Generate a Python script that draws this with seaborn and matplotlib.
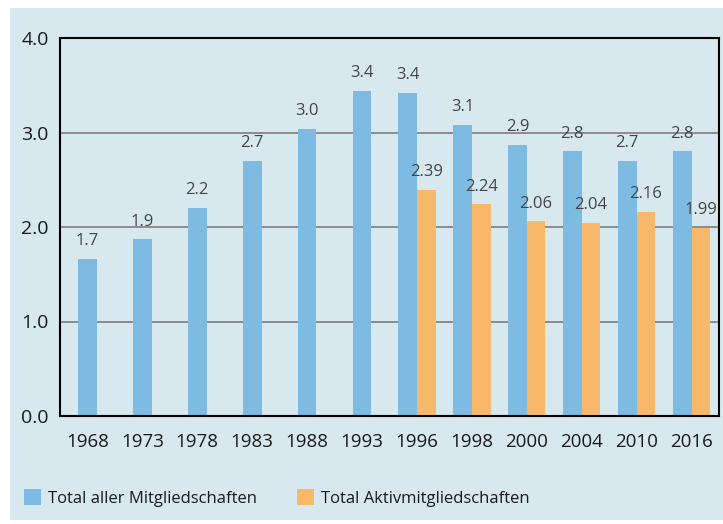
import pandas as pd
import matplotlib.pyplot as plt
import seaborn as sns
from matplotlib.patches import Rectangle, Patch

years = ['1968', '1973', '1978', '1983', '1988', '1993',
         '1996', '1998', '2000', '2004', '2010', '2016']
total_all = [1.66, 1.87, 2.20, 2.70, 3.04, 3.44, 3.42, 3.08, 2.87, 2.80, 2.70, 2.80]
years_active = ['1996', '1998', '2000', '2004', '2010', '2016']
total_active = [2.39, 2.24, 2.06, 2.04, 2.16, 1.99]

name_all = 'Total aller Mitgliedschaften'
name_active = 'Total Aktivmitgliedschaften'
blue = '#7DBBE3'
orange = '#F8B86A'
bg = '#D7E8EF'

sns.set_style('white')
plt.rcParams['font.family'] = ['Open Sans', 'DejaVu Sans']

df = pd.DataFrame({'Jahr': years, 'Wert': total_all})
early = df[~df['Jahr'].isin(years_active)]
late = pd.concat([
    pd.DataFrame({'Jahr': years_active,
                  'Wert': df.set_index('Jahr').loc[years_active, 'Wert'].values,
                  'Serie': name_all}),
    pd.DataFrame({'Jahr': years_active, 'Wert': total_active, 'Serie': name_active}),
])

fig = plt.figure(figsize=(7.23, 5.24), dpi=100)
fig.patches.append(Rectangle((10 / 723, 4 / 524), 1 - 10 / 723, 1 - 12 / 524,
                             transform=fig.transFigure, facecolor=bg,
                             edgecolor='none', zorder=-10))
ax = fig.add_axes([60 / 723, 1 - 416 / 524, 659 / 723, 378 / 524])
ax.set_facecolor(bg)

sns.barplot(data=early, x='Jahr', y='Wert', order=years, color=blue,
            width=0.34, saturation=1, linewidth=0, ax=ax)
sns.barplot(data=late, x='Jahr', y='Wert', hue='Serie', order=years,
            hue_order=[name_all, name_active], palette=[blue, orange],
            width=0.68, saturation=1, linewidth=0, legend=False, ax=ax)

lab = dict(padding=7, fontsize=12, color='#454545')
ax.bar_label(ax.containers[0], fmt='%.1f', **lab)
ax.bar_label(ax.containers[1], fmt='%.1f', **lab)
ax.bar_label(ax.containers[2], fmt='%.2f', **lab)

ax.set_ylim(0, 4)
ax.set_yticks([0, 1, 2, 3, 4])
ax.set_yticklabels(['0.0', '1.0', '2.0', '3.0', '4.0'])
ax.set_xlim(-0.5, len(years) - 0.5)
ax.yaxis.grid(True, color='#8C8C8C', linewidth=1.4)
ax.set_axisbelow(True)
ax.tick_params(axis='y', length=5, color='#8C8C8C', labelsize=14, pad=3, labelcolor='#1a1a1a')
ax.tick_params(axis='x', length=0, labelsize=13.5, pad=12, labelcolor='#1a1a1a')
ax.set_xlabel('')
ax.set_ylabel('')
for s in ax.spines.values():
    s.set_visible(True)
    s.set_color('black')
    s.set_linewidth(1.5)

handles = [Patch(facecolor=blue, edgecolor='none', label=name_all),
           Patch(facecolor=orange, edgecolor='none', label=name_active)]
fig.legend(handles=handles, loc='center left', bbox_to_anchor=(24 / 723, 1 - 498 / 524),
           ncol=2, frameon=False, fontsize=12, handlelength=1.0, handleheight=1.1,
           handletextpad=0.45, columnspacing=2.4, borderaxespad=0, borderpad=0,
           labelcolor='#1a1a1a')

fig.savefig('out.png', dpi=100, facecolor='white')
